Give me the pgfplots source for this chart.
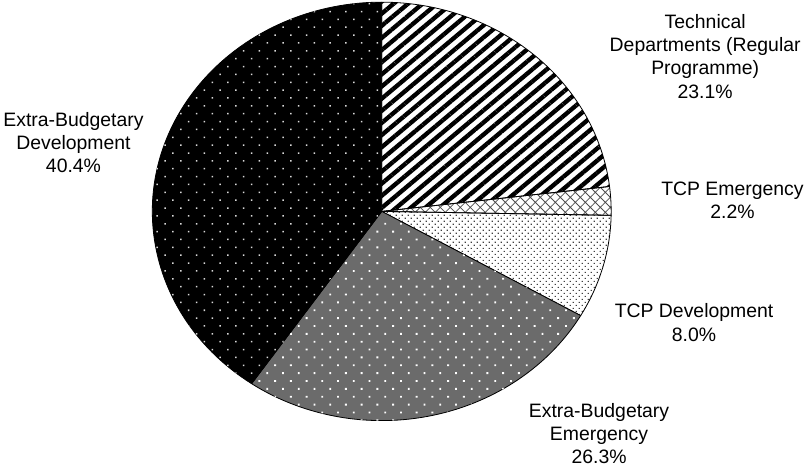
\documentclass[border=0pt]{standalone}
\usepackage{pgfplots}
\pgfplotsset{compat=1.18}
\usepackage{pgfplotstable}
\usetikzlibrary{patterns,patterns.meta}
\usepackage{fontspec}
\setmainfont{Liberation Sans}
\tikzset{
  lbl/.style={align=center, font=\fontsize{19.2}{23}\selectfont, text=black},
  edge/.style={draw=black, line width=0.8pt, line join=round},
}
\begin{document}
\begin{tikzpicture}
\pgfplotstableread{
name value
TD 23.1
TCPE 2.2
TCPD 8.0
EBE 26.3
EBD 40.4
}\piedata
\pgfplotstablegetelem{0}{value}\of\piedata \pgfmathsetmacro\vA{\pgfplotsretval}
\pgfplotstablegetelem{1}{value}\of\piedata \pgfmathsetmacro\vB{\pgfplotsretval}
\pgfplotstablegetelem{2}{value}\of\piedata \pgfmathsetmacro\vC{\pgfplotsretval}
\pgfplotstablegetelem{3}{value}\of\piedata \pgfmathsetmacro\vD{\pgfplotsretval}
\pgfplotstablegetelem{4}{value}\of\piedata \pgfmathsetmacro\vE{\pgfplotsretval}
\pgfmathsetmacro\aA{90}
\pgfmathsetmacro\aB{\aA-3.6*\vA}
\pgfmathsetmacro\aC{\aB-3.6*\vB}
\pgfmathsetmacro\aD{\aC-3.6*\vC}
\pgfmathsetmacro\aE{\aD-3.6*\vD}
\pgfmathsetmacro\aF{\aE-3.6*\vE}
\begin{axis}[
  scale only axis, width=807pt, height=468pt,
  xmin=0, xmax=807, ymin=0, ymax=468,
  hide axis, clip=false,
]
% Technical Departments
\path[edge, pattern={Lines[angle=40, distance=9.2pt, line width=4.3pt]}, pattern color=black]
  (axis cs:385,253) -- ++(\aA:227pt and 207pt) arc[start angle=\aA, end angle=\aB, x radius=227pt, y radius=207pt] -- cycle;
% TCP Emergency
\path[edge, pattern={Hatch[angle=45, distance=7pt, line width=0.8pt]}, pattern color=black!70]
  (axis cs:385,253) -- ++(\aB:227pt and 207pt) arc[start angle=\aB, end angle=\aC, x radius=227pt, y radius=207pt] -- cycle;
% TCP Development
\path[edge, pattern={Dots[angle=45, distance=4.2pt, radius=0.85pt]}, pattern color=black!75]
  (axis cs:385,253) -- ++(\aC:227pt and 207pt) arc[start angle=\aC, end angle=\aD, x radius=227pt, y radius=207pt] -- cycle;
% Extra-Budgetary Emergency
\path[edge, fill=black!58, postaction={pattern={Dots[angle=45, distance=11pt, radius=1.3pt]}, pattern color=white}]
  (axis cs:385,253) -- ++(\aD:227pt and 207pt) arc[start angle=\aD, end angle=\aE, x radius=227pt, y radius=207pt] -- cycle;
% Extra-Budgetary Development
\path[edge, fill=black, postaction={pattern={Dots[angle=45, distance=11pt, radius=1.05pt]}, pattern color=black!15}]
  (axis cs:385,253) -- ++(\aE:227pt and 207pt) arc[start angle=\aE, end angle=\aF, x radius=227pt, y radius=207pt] -- cycle;

\node[lbl] at (axis cs:705,406.5) {Technical\\Departments (Regular\\Programme)\\23.1\%};
\node[lbl] at (axis cs:732,264) {TCP Emergency\\2.2\%};
\node[lbl] at (axis cs:694,143) {TCP Development\\8.0\%};
\node[lbl] at (axis cs:600,33) {Extra-Budgetary\\Emergency\\26.3\%};
\node[lbl] at (axis cs:80,321) {Extra-Budgetary\\Development\\40.4\%};
\end{axis}
\end{tikzpicture}
\end{document}
